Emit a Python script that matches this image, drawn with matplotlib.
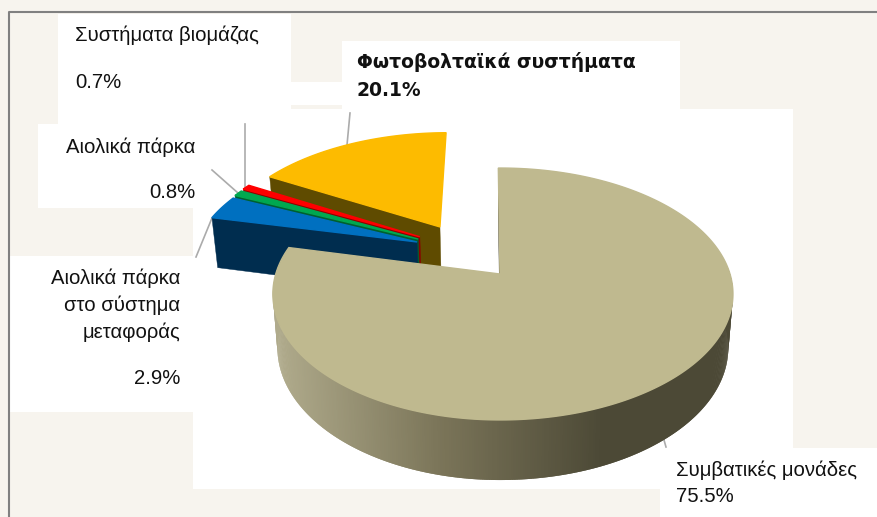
# -*- coding: UTF-8 -*-
# Exploded 3D pie: the disc is projected by hand because matplotlib's pie is flat

import numpy as np
import matplotlib
matplotlib.use('Agg')
import matplotlib.pyplot as plt
from matplotlib.collections import PolyCollection
from matplotlib.colors import LinearSegmentedColormap
from matplotlib.patches import Rectangle

plt.rcParams['font.family'] = ['Liberation Sans', 'DejaVu Sans']

# slices clockwise from the top of the disc
names = ['Συμβατικές μονάδες', 'Αιολικά πάρκα στο σύστημα μεταφοράς', 'Αιολικά πάρκα',
         'Συστήματα βιομάζας', 'Φωτοβολταϊκά συστήματα']
labels_pct = ['75.5%', '2.9%', '0.8%', '0.7%', '20.1%']
# the printed labels do not agree with the drawn angles, these are read off the slices
shares = [78.4, 3.2, 0.8, 0.7, 16.5]

top_colors = ['#BFB98F', '#0070C0', '#00A850', '#FF0000', '#FDBB00']
wall_colors = ['#4C4936', '#002D4F', '#006030', '#8B0000', '#5F4B00']
# explode offset of every slice, in disc radii (x to the right, y to the back)
explode = [(0, 0), (-0.376, 0.272), (-0.372, 0.298), (-0.366, 0.318), (-0.278, 0.408)]

start_angle = -0.5
apex_x, apex_y = 500, 274
persp, y_scale, x_scale = 0.1587, 79.3, 230

BG = '#F7F4EE'
wall_cmap = LinearSegmentedColormap.from_list('wall', ['#B0AB8C', '#7B7559', '#4C4936'])


def project(x, y):
    w = 1 + persp * y
    return apex_x + x_scale * x / w, (apex_y - y_scale * y) / w


def lower(sx, sy):
    # bottom face: pushed down, a little narrower
    return apex_x + (sx - apex_x) * 0.98, sy + 50 + 0.05 * (sy - 218)


def draw_slice(ax, a0, a1, off, top, wall, shaded=False):
    th = np.radians(np.linspace(a0, a1, max(int(a1 - a0) * 2, 6)))
    sx = np.sin(th)
    if shaded:
        # the big slice is a bit narrower on its left side
        sx = np.where(sx < 0, sx * 0.975, sx)
    rx, ry = project(off[0] + sx, off[1] + np.cos(th))
    cx, cy = project(off[0], off[1])
    bx, by = lower(rx, ry)
    bcx, bcy = lower(cx, cy)

    # side wall that faces the viewer
    ax.fill([cx, rx[0], bx[0], bcx], [cy, ry[0], by[0], bcy], color=wall, lw=0.3, zorder=3)
    # outer wall of the front part only, each quad runs over the next one so no seams show
    n = len(th)
    front = [i for i in range(n - 1) if np.cos(th[i]) < 0.05]
    quads = [[(rx[i], ry[i]), (rx[min(i + 2, n - 1)], ry[min(i + 2, n - 1)]),
              (bx[min(i + 2, n - 1)], by[min(i + 2, n - 1)]), (bx[i], by[i])]
             for i in front]
    if front:
        if shaded:
            cols = wall_cmap(np.clip((rx[front] - 275) / 330, 0, 1))
        else:
            cols = wall
        ax.add_collection(PolyCollection(quads, facecolors=cols, edgecolors='none', zorder=3))
    # top face
    ax.fill(np.r_[cx, rx], np.r_[cy, ry], color=top, lw=1.0, zorder=3)


fig = plt.figure(figsize=(8.77, 5.17), dpi=100, facecolor=BG)
ax = fig.add_axes([0, 0, 1, 1])
ax.set_xlim(0, 877)
ax.set_ylim(517, 0)
ax.axis('off')

# white boxes behind the plot and the labels
boxes = [(193, 109, 467, 380), (660, 109, 133, 339), (660, 448, 217, 69), (58, 14, 233, 110),
         (38, 124, 155, 84), (10, 256, 183, 156), (342, 41, 338, 68), (291, 82, 51, 23)]
for bx0, by0, bw, bh in boxes:
    ax.add_patch(Rectangle((bx0, by0), bw, bh, color='white', lw=0, zorder=1))

# chart frame
ax.plot([9, 9, 877], [517, 12, 12], color='#808080', lw=1.5, zorder=2)

# leader lines
leaders = [([350, 347], [113, 145]), ([245, 245], [124, 188]),
           ([212, 238], [170, 193]), ([196, 212], [257, 218]), ([664, 666], [440, 447])]
for lx, ly in leaders:
    ax.plot(lx, ly, color='#ABABAB', lw=1.2, zorder=2)

edges = start_angle + 360 * np.r_[0, np.cumsum(shares)] / np.sum(shares)

# back slices first, the big one goes on top
for i in [4, 3, 2, 1, 0]:
    draw_slice(ax, edges[i], edges[i + 1], explode[i], top_colors[i], wall_colors[i], shaded=(i == 0))

txt = dict(color='#111111', fontsize=14.6, va='center', zorder=4)
bold = dict(color='#111111', fontsize=13.5, va='center', zorder=4, fontweight='bold', family='DejaVu Sans')
ax.text(75, 35, names[3], ha='left', **txt)
ax.text(75, 82, labels_pct[3], ha='left', **txt)
ax.text(357, 62, names[4], ha='left', **bold)
ax.text(357, 90, labels_pct[4], ha='left', **bold)
ax.text(195, 147, names[2], ha='right', **txt)
ax.text(195, 193, labels_pct[2], ha='right', **txt)
ax.text(180, 278, 'Αιολικά πάρκα', ha='right', **txt)
ax.text(180, 305, 'στο σύστημα', ha='right', **txt)
ax.text(180, 332, 'μεταφοράς', ha='right', **txt)
ax.text(180, 378, labels_pct[1], ha='right', **txt)
ax.text(676, 470, names[0], ha='left', **txt)
ax.text(676, 497, labels_pct[0], ha='left', **txt)

fig.savefig('out.png', dpi=100, facecolor=BG)
